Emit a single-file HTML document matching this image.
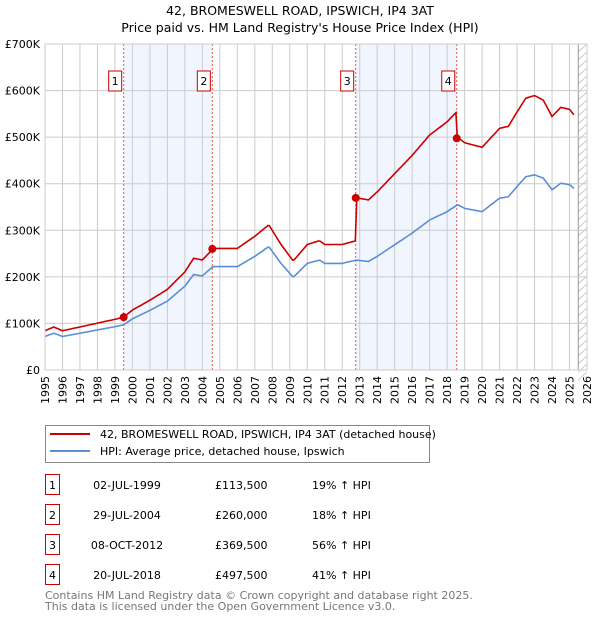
<!DOCTYPE html>
<html><head><meta charset="utf-8"><style>
body{margin:0;background:#fff;font-family:"DejaVu Sans","Liberation Sans",sans-serif;}
svg text{font-family:"DejaVu Sans","Liberation Sans",sans-serif;}
</style></head><body>
<svg id="c" width="600" height="620" xmlns="http://www.w3.org/2000/svg">
<text x="300" y="15" text-anchor="middle" font-size="12.5">42, BROMESWELL ROAD, IPSWICH, IP4 3AT</text>
<text x="300" y="32" text-anchor="middle" font-size="12.5">Price paid vs. HM Land Registry's House Price Index (HPI)</text>
<g id="plot"></g>
<g>
<rect x="45.5" y="425.5" width="384" height="37" fill="#fff" stroke="#888"/>
<line x1="50" y1="434" x2="90" y2="434" stroke="#cc0000" stroke-width="2"/>
<text x="100" y="438" font-size="11">42, BROMESWELL ROAD, IPSWICH, IP4 3AT (detached house)</text>
<line x1="50" y1="451" x2="90" y2="451" stroke="#5b8fd4" stroke-width="2"/>
<text x="100" y="455" font-size="11">HPI: Average price, detached house, Ipswich</text>
</g>
<g id="table" font-size="11"></g>
<text x="45" y="599" font-size="11" fill="#777">Contains HM Land Registry data © Crown copyright and database right 2025.</text>
<text x="45" y="610" font-size="11" fill="#777">This data is licensed under the Open Government Licence v3.0.</text>
</svg>
<script>
const hpiYears=[1995,1995.5,1996,1997,1998,1999,1999.5,2000,2001,2002,2003,2003.5,2004,2004.6,2005,2006,2007,2007.8,2008.5,2009.2,2010,2010.7,2011,2012,2012.8,2013.5,2014,2015,2016,2017,2018,2018.6,2019,2020,2021,2021.5,2022,2022.5,2023,2023.5,2024,2024.5,2025,2025.3];
const hpiValues=[72,79,72,79,86,93,97,110,128,148,180,205,202,222,222,222,244,265,229,199,229,236,229,229,236,233,244,269,294,322,340,355,347,340,369,372,394,415,419,412,387,401,398,388];
const saleLabels=["1","2","3","4"];
const saleYears=[1999.5,2004.57,2012.77,2018.55];
const salePrices=[113.5,260,369.5,497.5];
const saleDates=["02-JUL-1999","29-JUL-2004","08-OCT-2012","20-JUL-2018"];
const salePriceText=["£113,500","£260,000","£369,500","£497,500"];
const saleHpiText=["19% ↑ HPI","18% ↑ HPI","56% ↑ HPI","41% ↑ HPI"];
const yTicks=[0,100,200,300,400,500,600,700];
const yTickLabels=["£0","£100K","£200K","£300K","£400K","£500K","£600K","£700K"];
const xTicks=[1995,1996,1997,1998,1999,2000,2001,2002,2003,2004,2005,2006,2007,2008,2009,2010,2011,2012,2013,2014,2015,2016,2017,2018,2019,2020,2021,2022,2023,2024,2025,2026];

const NS="http://www.w3.org/2000/svg";
const X0=45,X1=587,Y0=370,Y1=44;
const xs=y=>X0+(y-1995)/(2026-1995)*(X1-X0);
const ys=v=>Y0-v/700*(Y0-Y1);
const plot=document.getElementById('plot');
function mk(t,a,p){const e=document.createElementNS(NS,t);for(const k in a)e.setAttribute(k,a[k]);(p||plot).appendChild(e);return e;}
function hpiAt(y){for(let i=0;i<hpiYears.length-1;i++){if(y<=hpiYears[i+1]){const f=(y-hpiYears[i])/(hpiYears[i+1]-hpiYears[i]);return hpiValues[i]+f*(hpiValues[i+1]-hpiValues[i]);}}return hpiValues[hpiValues.length-1];}
for(let i=0;i<saleYears.length;i+=2){
 const r=mk('rect',{x:xs(saleYears[i]),y:Y1,width:xs(saleYears[i+1])-xs(saleYears[i]),height:Y0-Y1,fill:'#eef3fc',opacity:0.8});
 
 
}
const hx=xs(2025.5);
const hg=mk('g',{});


for(let y=Y1;y<Y0+10;y+=8)mk('line',{x1:hx,y1:y+8,x2:X1,y2:y,stroke:'#ccc','stroke-width':1},hg);
mk('line',{x1:hx,y1:Y1,x2:hx,y2:Y0,stroke:'#999','stroke-width':1},hg);
xTicks.forEach(t=>{const l=mk('line',{x1:xs(t),y1:Y1,x2:xs(t),y2:Y0,stroke:'#ccc','stroke-width':1});
 
 const px=xs(t)+4,py=Y0+6;
 const tx=mk('text',{x:px,y:py,'text-anchor':'end','font-size':11,transform:`rotate(-90 ${px} ${py})`});tx.textContent=t;
 });
yTicks.forEach((t,i)=>{const l=mk('line',{x1:X0,y1:ys(t),x2:X1,y2:ys(t),stroke:'#ccc','stroke-width':1});
 
 const tx=mk('text',{x:X0-5,y:ys(t)+4,'text-anchor':'end','font-size':11});tx.textContent=yTickLabels[i];
 });
saleYears.forEach((s,i)=>{const l=mk('line',{x1:xs(s),y1:Y1,x2:xs(s),y2:Y0,stroke:'#ee5555','stroke-width':1,'stroke-dasharray':'2,2'});
 
 const g=mk('g',{});
 mk('rect',{x:xs(s)-15,y:71,width:13,height:20,fill:'#fff',stroke:'#cc0000'},g);
 const t=mk('text',{x:xs(s)-8.5,y:85,'text-anchor':'middle','font-size':11},g);t.textContent=saleLabels[i];});
let pts=[];
for(let y=1995;y<=2025.3;y+=1/12)pts.push(xs(y).toFixed(1)+','+ys(hpiAt(y)).toFixed(1));
const b=mk('polyline',{points:pts.join(' '),fill:'none',stroke:'#5b8fd4','stroke-width':1.6});

const ratios=saleYears.map((s,i)=>salePrices[i]/hpiAt(s));
pts=[];
for(let y=1995;y<=2025.3;y+=1/12){let k=0;for(let i=0;i<saleYears.length;i++)if(y>=saleYears[i])k=i;
 pts.push(xs(y).toFixed(1)+','+ys(hpiAt(y)*ratios[k]).toFixed(1));}
const r=mk('polyline',{points:pts.join(' '),fill:'none',stroke:'#cc0000','stroke-width':1.6});

saleYears.forEach((s,i)=>{const c=mk('circle',{cx:xs(s),cy:ys(salePrices[i]),r:4,fill:'#cc0000'});
 });
mk('rect',{x:X0,y:Y1,width:X1-X0,height:Y0-Y1,fill:'none',stroke:'#ccc'});
const tb=document.getElementById('table');
saleLabels.forEach((s,i)=>{const y=483+i*30;
 const g=mk('g',{},tb);
 mk('rect',{x:45.5,y:y-8.5,width:14,height:20,fill:'#fff',stroke:'#cc0000'},g);
 const a=mk('text',{x:52.5,y:y+6,'text-anchor':'middle'},g);a.textContent=s;
 const d=mk('text',{x:127,y:y+6,'text-anchor':'middle'},g);d.textContent=saleDates[i];
 const p=mk('text',{x:215,y:y+6},g);p.textContent=salePriceText[i];
 const h=mk('text',{x:312,y:y+6},g);h.textContent=saleHpiText[i];});
</script>
</body></html>
